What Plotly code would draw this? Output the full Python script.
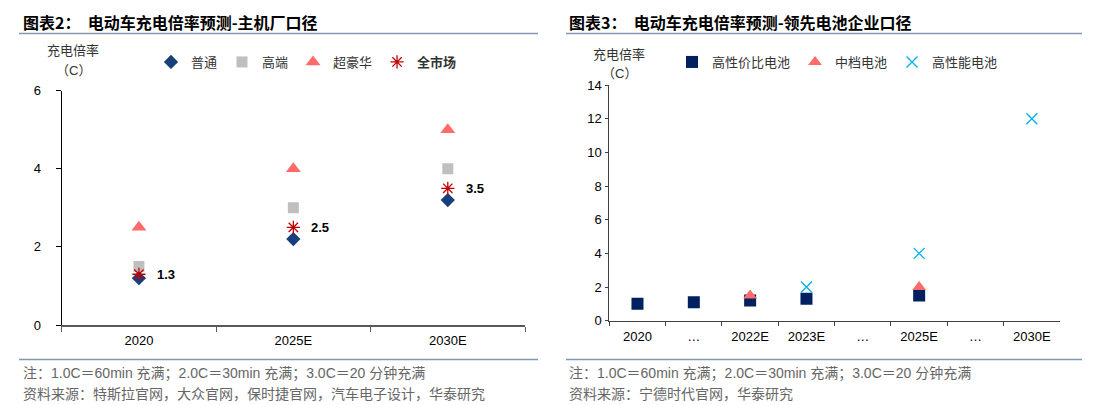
import plotly.graph_objects as go

# The page body has an 8px margin; the figure is sized to fit inside the
# window from that offset, and every layout position below is given in page
# pixels, then converted to paper fractions.
OFF = 8
FW, FH = 1093 - OFF, 405 - OFF


def px(x):
    return (x - OFF) / FW


def py(y):
    return 1 - (y - OFF) / FH


FONT_NUM = "Liberation Sans, Arial, Noto Sans CJK SC"
FONT_CJK = "Noto Sans CJK SC, Liberation Sans"

# ---------------- Left chart data (图表2) ----------------
years_l = ["2020", "2025E", "2030E"]
normal = [1.2, 2.2, 3.2]        # 普通
premium = [1.5, 3.0, 4.0]       # 高端
luxury = [2.5, 4.0, 5.0]        # 超豪华
market = [1.3, 2.5, 3.5]        # 全市场
yticks_l = [0, 2, 4, 6]

# ---------------- Right chart data (图表3) ----------------
cats_r = ["2020", "…", "2022E", "2023E", "…\u200b", "2025E", "…\u200b\u200b", "2030E"]
cost_x = ["2020", "…", "2022E", "2023E", "2025E"]
cost = [1.0, 1.1, 1.2, 1.3, 1.5]          # 高性价比电池
mid_x = ["2022E", "2025E"]
mid = [1.5, 2.0]                           # 中档电池
perf_x = ["2023E", "2025E", "2030E"]
perf = [2.0, 4.0, 12.0]                    # 高性能电池
yticks_r = [0, 2, 4, 6, 8, 10, 12, 14]

fig = go.Figure()

# Left chart traces
fig.add_trace(go.Scatter(x=years_l, y=normal, name="普通", mode="markers",
                         marker=dict(symbol="diamond", size=11, color="#17407A"),
                         xaxis="x", yaxis="y", legend="legend"))
fig.add_trace(go.Scatter(x=years_l, y=premium, name="高端", mode="markers",
                         marker=dict(symbol="square", size=11, color="#BFBFBF"),
                         xaxis="x", yaxis="y", legend="legend"))
fig.add_trace(go.Scatter(x=years_l, y=luxury, name="超豪华", mode="markers",
                         marker=dict(symbol="triangle-up", size=13, color="#FF6B6B"),
                         xaxis="x", yaxis="y", legend="legend"))
fig.add_trace(go.Scatter(x=years_l, y=market, name="<b>全市场</b>", mode="markers",
                         marker=dict(symbol="asterisk-open", size=11, color="#C00000",
                                     line=dict(color="#C00000", width=1.3)),
                         xaxis="x", yaxis="y", legend="legend"))

# Right chart traces
fig.add_trace(go.Scatter(x=cost_x, y=cost, name="高性价比电池", mode="markers",
                         marker=dict(symbol="square", size=12, color="#002060"),
                         xaxis="x2", yaxis="y2", legend="legend2"))
fig.add_trace(go.Scatter(x=mid_x, y=mid, name="中档电池", mode="markers",
                         marker=dict(symbol="triangle-up", size=12, color="#FF6B6B"),
                         xaxis="x2", yaxis="y2", legend="legend2"))
fig.add_trace(go.Scatter(x=perf_x, y=perf, name="高性能电池", mode="markers",
                         marker=dict(symbol="x-thin-open", size=11, color="#00B0F0",
                                     line=dict(color="#00B0F0", width=1.3)),
                         xaxis="x2", yaxis="y2", legend="legend2"))

annotations = []
# data labels for 全市场 (category index used as x position)
for i, yv in enumerate(market):
    annotations.append(dict(x=i, y=yv, xref="x", yref="y", text=f"<b>{yv}</b>",
                            showarrow=False, xanchor="left", yanchor="middle",
                            xshift=16, font=dict(family=FONT_NUM, size=13, color="#000")))

# Titles
annotations.append(dict(x=px(21), y=py(22), xref="paper", yref="paper",
                        text="<b>图表2：  电动车充电倍率预测-主机厂口径</b>", showarrow=False,
                        xanchor="left", yanchor="middle",
                        font=dict(family=FONT_CJK, size=16, color="#000")))
annotations.append(dict(x=px(567), y=py(22), xref="paper", yref="paper",
                        text="<b>图表3：  电动车充电倍率预测-领先电池企业口径</b>", showarrow=False,
                        xanchor="left", yanchor="middle",
                        font=dict(family=FONT_CJK, size=16, color="#000")))

# Axis unit labels
for cx, y1, y2 in [(73, 50, 70), (619, 54, 73)]:
    annotations.append(dict(x=px(cx), y=py(y1), xref="paper", yref="paper", text="充电倍率",
                            showarrow=False, xanchor="center", yanchor="middle",
                            font=dict(family=FONT_CJK, size=13, color="#333")))
    annotations.append(dict(x=px(cx), y=py(y2), xref="paper", yref="paper", text="（C）",
                            showarrow=False, xanchor="center", yanchor="middle",
                            font=dict(family=FONT_NUM, size=13, color="#333")))

# Notes
note = "注：1.0C＝60min 充满；2.0C＝30min 充满；3.0C＝20 分钟充满"
src_l = "资料来源：特斯拉官网，大众官网，保时捷官网，汽车电子设计，华泰研究"
src_r = "资料来源：宁德时代官网，华泰研究"
for x0, src in [(21, src_l), (567, src_r)]:
    annotations.append(dict(x=px(x0), y=py(373), xref="paper", yref="paper", text=note,
                            showarrow=False, xanchor="left", yanchor="middle",
                            font=dict(family=FONT_NUM, size=14, color="#666")))
    annotations.append(dict(x=px(x0), y=py(393), xref="paper", yref="paper", text=src,
                            showarrow=False, xanchor="left", yanchor="middle",
                            font=dict(family=FONT_CJK, size=14, color="#666")))

shapes = []
for x0, x1 in [(19, 538), (566, 1082)]:
    for yy in (33.5, 359.5):
        shapes.append(dict(type="line", xref="paper", yref="paper",
                           x0=px(x0), x1=px(x1), y0=py(yy), y1=py(yy),
                           line=dict(color="#8497B0", width=1.3)))

axis_font = dict(family=FONT_NUM, size=13, color="#000")

fig.update_layout(
    width=FW, height=FH,
    margin=dict(l=0, r=0, t=0, b=0, autoexpand=False),
    paper_bgcolor="white", plot_bgcolor="white",
    showlegend=True,
    xaxis=dict(domain=[px(61.7), px(525)], type="category", categoryorder="array",
               categoryarray=years_l, range=[-0.5, 2.5], tickson="boundaries",
               ticks="outside", ticklen=5, tickcolor="#595959", showline=True,
               linecolor="#595959", linewidth=1.5, showgrid=False, zeroline=False,
               tickfont=axis_font, ticklabelstandoff=3, anchor="y", fixedrange=True),
    yaxis=dict(domain=[py(325), py(90.7)], range=[0, 6], tickvals=yticks_l,
               ticks="outside", ticklen=5, tickcolor="#000", showline=True,
               linecolor="#000", linewidth=1, showgrid=False, zeroline=False,
               tickfont=axis_font, ticklabelstandoff=12, anchor="x", fixedrange=True),
    xaxis2=dict(domain=[px(609.3), px(1060)], type="category", categoryorder="array",
                categoryarray=cats_r, range=[-0.5, 7.5], tickson="boundaries",
                ticks="outside", ticklen=4, tickcolor="#404040", showline=True,
                linecolor="#404040", linewidth=1.2, showgrid=False, zeroline=False,
                tickfont=axis_font, ticklabelstandoff=4, anchor="y2", fixedrange=True),
    yaxis2=dict(domain=[py(320.7), py(85)], range=[0, 14], tickvals=yticks_r,
                ticks="outside", ticklen=3, tickcolor="#404040", showline=True,
                linecolor="#404040", linewidth=1, showgrid=False, zeroline=False,
                tickfont=axis_font, ticklabelstandoff=1, anchor="x2", fixedrange=True),
    legend=dict(orientation="h", x=px(151), y=py(62), xanchor="left", yanchor="middle",
                font=dict(family=FONT_CJK, size=13, color="#333"),
                bgcolor="rgba(0,0,0,0)", itemwidth=30, tracegroupgap=0,
                itemclick=False, itemdoubleclick=False),
    legend2=dict(orientation="h", x=px(672), y=py(62), xanchor="left", yanchor="middle",
                 font=dict(family=FONT_CJK, size=13, color="#333"),
                 bgcolor="rgba(0,0,0,0)", itemwidth=30, tracegroupgap=0,
                 itemclick=False, itemdoubleclick=False),
    annotations=annotations,
    shapes=shapes,
)

fig.write_html("out.html", config={"displayModeBar": False})
